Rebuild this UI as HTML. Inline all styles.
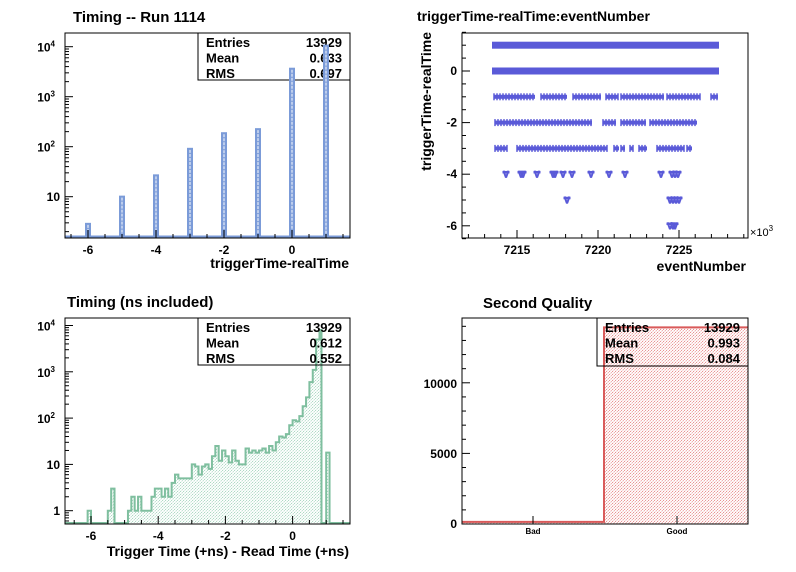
<!DOCTYPE html>
<html><head><meta charset="utf-8"><style>
body{margin:0;background:#fff;}
svg{display:block;font-family:"Liberation Sans",Arial,sans-serif;font-weight:bold;}
</style></head><body>
<svg id="s" width="796" height="572" viewBox="0 0 796 572" xmlns="http://www.w3.org/2000/svg">
<defs>
<pattern id="hg" width="3" height="3" patternUnits="userSpaceOnUse"><path d="M0,3 L3,0" stroke="#8fcaae" stroke-width="0.7" stroke-dasharray="1.5,0.8"/></pattern>
<pattern id="hr" width="3" height="3" patternUnits="userSpaceOnUse"><path d="M0,3 L3,0" stroke="#e06a6a" stroke-width="0.7" stroke-dasharray="1.5,0.8"/></pattern>
<clipPath id="c1"><rect x="65" y="33" width="285" height="205"/></clipPath>
<clipPath id="c2"><rect x="65" y="318" width="285" height="206"/></clipPath>
</defs>
<rect width="796" height="572" fill="#fff"/>
<g id="g"></g>
<text x="73" y="22" font-size="15">Timing -- Run 1114</text>
<text x="67" y="307" font-size="15">Timing (ns included)</text>
<text x="417" y="21" font-size="14">triggerTime-realTime:eventNumber</text>
<text x="483" y="308" font-size="15">Second Quality</text>
<text x="349" y="268" font-size="14" text-anchor="end">triggerTime-realTime</text>
<text x="349" y="556" font-size="14" text-anchor="end">Trigger Time (+ns) - Read Time (+ns)</text>
<text x="746" y="271" font-size="14" text-anchor="end">eventNumber</text>
<text transform="translate(431,32) rotate(-90)" font-size="14" text-anchor="end">triggerTime-realTime</text>
<text x="750" y="236" font-size="11" font-weight="normal">×10<tspan dy="-5" font-size="8">3</tspan></text>
</svg>
<script>
const g=document.getElementById('g');let h='';
function L(x1,y1,x2,y2,c,w,extra){h+=`<line x1="${x1}" y1="${y1}" x2="${x2}" y2="${y2}" stroke="${c||'#000'}" stroke-width="${w||1}" ${extra||''}/>`;}
function T(x,y,t,a,fs){h+=`<text x="${x}" y="${y}" font-size="${fs||12}" text-anchor="${a||'middle'}">${t}</text>`;}
function stats(x1,y1,x2,y2,vals){h+=`<rect x="${x1}" y="${y1}" width="${x2-x1}" height="${y2-y1}" fill="none" stroke="#000"/>`;
 const n=['Entries','Mean','RMS'];for(let i=0;i<3;i++){T(x1+8,y1+14+i*15.5,n[i],'start',13);T(x2-8,y1+14+i*15.5,vals[i],'end',13);}}
function logAxis(Y,x0,dmin,dmax,bot,top){
 for(let d=dmin;d<=dmax;d++){for(let m=1;m<10;m++){const y=Y(m*Math.pow(10,d));if(y>bot||y<top)continue;L(x0,y,x0+(m==1?8:4),y);}}
}
// Panel 1
{const X=v=>292+34*v,Y=c=>196.7-50*(Math.log10(c)-1);
 h+=`<rect x="198" y="33" width="152" height="47" fill="#fff" stroke="#000"/>`;
 stats(198,33,350,80,['13929','0.633','0.697']);
 h+=`<g clip-path="url(#c1)">`;
 L(65,236.5,350,236.5,'#7b9bd8',2);
 const d=[[-6,3],[-5,10.5],[-4,28],[-3,95],[-2,195],[-1,235],[0,3800],[1,11000]];
 for(const[k,c]of d){const x=X(k);h+=`<rect x="${x-3}" y="${Y(c)}" width="6" height="${238-Y(c)}" fill="#7b9bd8"/>`;L(x,Y(c)+2,x,237,'#fff',1,'stroke-dasharray="3,1"');}
 h+=`</g>`;
 h+=`<rect x="65" y="33" width="285" height="205" fill="none" stroke="#000"/>`;
 logAxis(Y,65,0,4,238,33);
 for(let v=-6.5;v<=1.5;v+=0.5){const x=X(v);L(x,238,x,238-(Number.isInteger(v/2)?8:4));}
 for(const v of[-6,-4,-2,0])T(X(v),254,v);
 T(60,201,'10','end');
 for(const[e,c]of[[2,100],[3,1000],[4,10000]])h+=`<text x="55" y="${Y(c)+5}" font-size="12" text-anchor="end">10<tspan dy="-5" font-size="8">${e}</tspan></text>`;
}
// Panel 2
{const X=v=>292.6+33.6*v,Y=c=>510.7-46.3*Math.log10(c);
 const m={'-6.1':1,'-5.5':1,'-5.4':3,'-4.9':1,'-4.8':2,'-4.7':1,'-4.6':2,'-4.5':1,'-4.4':1,'-4.3':1,'-4.2':2,'-4.1':3,'-4.0':3,'-3.9':2,'-3.8':3,'-3.7':2,'-3.6':4,'-3.5':6,'-3.4':5,'-3.3':5,'-3.2':5,'-3.1':5,'-3.0':10,'-2.9':9,'-2.8':6,'-2.7':9,'-2.6':10,'-2.5':8,'-2.4':15,'-2.3':25,'-2.2':12,'-2.1':20,'-2.0':15,'-1.9':11,'-1.8':20,'-1.7':12,'-1.6':10,'-1.5':10,'-1.4':22,'-1.3':18,'-1.2':20,'-1.1':18,'-1.0':20,'-0.9':22,'-0.8':18,'-0.7':25,'-0.6':20,'-0.5':30,'-0.4':40,'-0.3':38,'-0.2':45,'-0.1':70,'0.0':90,'0.1':85,'0.2':110,'0.3':180,'0.4':280,'0.5':600,'0.6':1100,'0.7':5000,'0.8':8000,'0.9':0,'1.0':18};
 let p=`M65,523`;
 for(let i=-67;i<=16;i++){const v=i/10,k=v.toFixed(1)=='-0.0'?'0.0':v.toFixed(1);const c=m[k]||0;const y=c>0?Y(c):523;let x1=X(v),x2=X(v+0.1);if(k=='0.8')x2=X(0.86);if(k=='0.9')x1=X(0.86);p+=` L${x1},${y} L${x2},${y}`;}
 p+=` L350,523`;
 h+=`<g clip-path="url(#c2)"><path d="${p} Z" fill="url(#hg)"/><path d="${p}" fill="none" stroke="#7fbf9f" stroke-width="2"/></g>`;
 h+=`<rect x="65" y="318" width="285" height="206" fill="none" stroke="#000"/>`;
 logAxis(Y,65,-1,4,524,318);
 for(let v=-6.5;v<=1.5;v+=0.5){const x=X(v);L(x,524,x,524-(Number.isInteger(v/2)?8:4));}
 for(const v of[-6,-4,-2,0])T(X(v),540,v);
 T(60,515,'1','end');T(60,469,'10','end');
 for(const[e,c]of[[2,100],[3,1000],[4,10000]])h+=`<text x="55" y="${Y(c)+5}" font-size="12" text-anchor="end">10<tspan dy="-5" font-size="8">${e}</tspan></text>`;
 stats(198,318,350,365,['13929','0.612','0.552']);
}
// Panel 3
{const X=k=>517+16.2*(k-7215),Y=v=>71-25.8*v,C='#5a5ad8';
 h+=`<rect x="462" y="33" width="286" height="205" fill="none" stroke="#000"/>`;
 for(let v=-6.5;v<=1.5;v+=0.5){const y=Y(v);L(462,y,462+(Number.isInteger(v/2)?8:4),y);}
 for(const v of[-6,-4,-2,0])T(457,Y(v)+4,v,'end');
 for(let k=7212;k<=7229;k++){const x=X(k);L(x,238,x,238-(k%5==0?8:4));}
 for(const k of[7215,7220,7225])T(X(k),254,k);
 const bar=(x1,x2,v,hh)=>{h+=`<rect x="${x1}" y="${Y(v)-hh/2}" width="${x2-x1}" height="${hh}" fill="${C}"/>`;};
 bar(492,719,1,7);bar(492,719,0,7);
 const seg={'-1':[[494,535],[541,567],[573,601],[606,618],[621,664],[667,700],[711,718]],'-2':[[495,592],[603,616],[621,646],[650,697]],'-3':[[495,507],[517,607],[614,619],[621,625],[630,633],[639,647],[657,684],[687,692]]};
 for(const v in seg)for(const[a,b]of seg[v]){bar(a,b,+v,4);for(let x=a;x<=b;x+=3)L(x,Y(+v)-3.5,x,Y(+v)+3.5,C,1.5);}
 const star=(x,v)=>{const y=Y(v);L(x-3.5,y-2,x+3.5,y-2,C,2.5);L(x-2.5,y-3.5,x,y+3.5,C,2);L(x+2.5,y-3.5,x,y+3.5,C,2);};
 for(const x of[506,521,523,537,553,555,563,572,591,609,625,661,672,675,678])star(x,-4);
 for(const x of[567,670,673,676,679])star(x,-5);
 for(const x of[670,673,675])star(x,-6);
}
// Panel 4
{const Y=c=>524-70.6*c/5000;
 h+=`<rect x="462" y="${Y(150)}" width="142" height="${524-Y(150)}" fill="url(#hr)"/>`;
 h+=`<rect x="604" y="${Y(13929)}" width="144" height="${524-Y(13929)}" fill="url(#hr)"/>`;
 h+=`<path d="M462,${Y(150)} L604,${Y(150)} L604,${Y(13929)} L748,${Y(13929)}" fill="none" stroke="#d95a5a" stroke-width="2"/>`;
 h+=`<rect x="462" y="318" width="286" height="206" fill="none" stroke="#000"/>`;
 for(let c=0;c<=14000;c+=1000){const y=Y(c);L(462,y,462+(c%5000==0?8:4),y);}
 T(457,528,'0','end');T(457,458,'5000','end');T(457,388,'10000','end');
 L(533,524,533,516);L(677,524,677,516);
 T(533,534,'Bad','middle',8);T(677,534,'Good','middle',8);
 stats(597,318,748,366,['13929','0.993','0.084']);
}
g.innerHTML=h;
</script>
</body></html>
